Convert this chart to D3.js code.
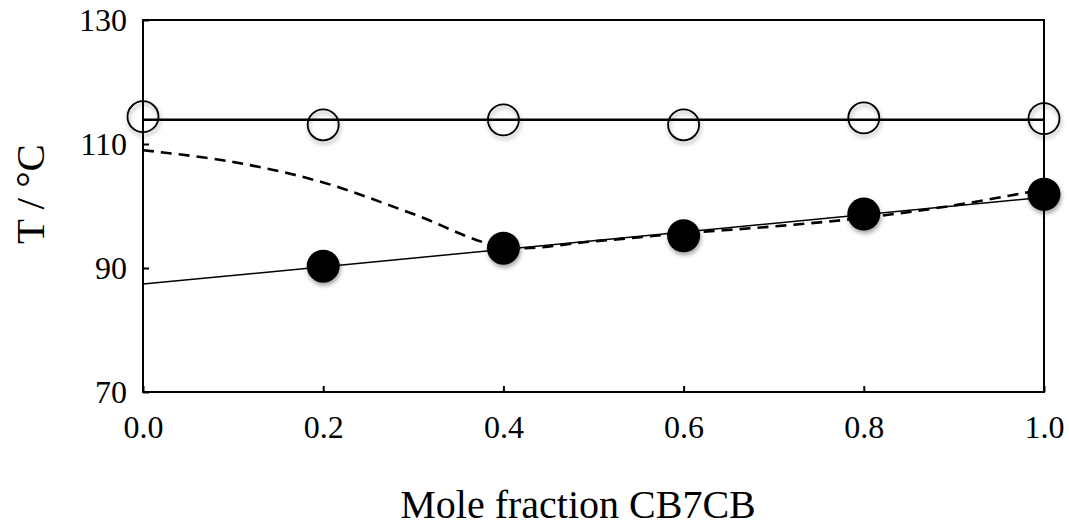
<!DOCTYPE html>
<html>
<head>
<meta charset="utf-8">
<script src="https://cdn.jsdelivr.net/npm/d3@7"></script>
<style>
body{margin:0;background:#fff}
text{font-family:"Liberation Serif","DejaVu Serif",serif;fill:#000}
</style>
</head>
<body>
<svg width="1069" height="530"></svg>
<script>
// mole fractions and temperatures
var xs = [0.0, 0.2, 0.4, 0.6, 0.8, 1.0]
var openT = [114.4, 113.1, 113.9, 113.1, 114.2, 114.1]
var filledX = [0.2, 0.4, 0.6, 0.8, 1.0]
var filledT = [90.3, 93.2, 95.2, 98.7, 101.9]
var flatLine = [113.9, 113.9]
var fitLine = [87.4, 101.4]
var dashX = [0.0, 0.1, 0.2, 0.3, 0.4, 0.5, 0.6, 0.7, 0.8, 0.9, 1.0]
var dashT = [109.0, 107.1, 103.8, 98.7, 93.4, 94.3, 95.6, 96.7, 98.1, 100.1, 102.7]
var xTicks = [0.0, 0.2, 0.4, 0.6, 0.8, 1.0]
var yTicks = [70, 90, 110, 130]

var svg = d3.select("svg")
var m = {left:143, right:1044, top:20, bottom:392}

var x = d3.scaleLinear().domain([0,1]).range([m.left, m.right])
var y = d3.scaleLinear().domain([70,130]).range([m.bottom, m.top])

var defs = svg.append("defs")
var f = defs.append("filter").attr("id","shadow").attr("x","-50%").attr("y","-50%").attr("width","200%").attr("height","200%")
f.append("feDropShadow").attr("dx",1).attr("dy",3).attr("stdDeviation",2).attr("flood-color","#000").attr("flood-opacity",0.35)

// frame
svg.append("rect").attr("x",m.left).attr("y",m.top)
    .attr("width",m.right-m.left).attr("height",m.bottom-m.top)
    .attr("fill","none").attr("stroke","#000").attr("stroke-width",2)

// axes with inward ticks
var xAxis = svg.append("g").attr("transform","translate(0,"+m.bottom+")")
    .call(d3.axisBottom(x).tickValues(xTicks).tickSize(-6).tickPadding(30).tickFormat(d3.format(".1f")))
var yAxis = svg.append("g").attr("transform","translate("+m.left+",0)")
    .call(d3.axisLeft(y).tickValues(yTicks).tickSize(-6).tickPadding(16))
svg.selectAll(".domain").remove()
svg.selectAll(".tick line").attr("stroke","#000").attr("stroke-width",2)
svg.selectAll(".tick text").attr("font-size",32).attr("font-family","Liberation Serif")
xAxis.selectAll(".tick text").attr("dy","0.5em")

// lines
var ends = [0,1]
svg.append("path").datum(ends.map(function(d,i){return [d, flatLine[i]]}))
    .attr("d", d3.line().x(function(p){return x(p[0])}).y(function(p){return y(p[1])}))
    .attr("stroke","#000").attr("stroke-width",2.6).attr("fill","none")
svg.append("path").datum(ends.map(function(d,i){return [d, fitLine[i]]}))
    .attr("d", d3.line().x(function(p){return x(p[0])}).y(function(p){return y(p[1])}))
    .attr("stroke","#000").attr("stroke-width",1.5).attr("fill","none")
svg.append("path").datum(dashX.map(function(d,i){return [d, dashT[i]]}))
    .attr("d", d3.line().curve(d3.curveCatmullRom).x(function(p){return x(p[0])}).y(function(p){return y(p[1])}))
    .attr("stroke","#000").attr("stroke-width",2.6).attr("stroke-dasharray","11,7").attr("fill","none")

// markers
svg.selectAll("circle.open").data(xs).enter().append("circle")
    .attr("class","open")
    .attr("cx", function(d){return x(d)})
    .attr("cy", function(d,i){return y(openT[i])})
    .attr("r",15.5).attr("fill","#fff").attr("fill-opacity",0.0)
    .attr("stroke","#000").attr("stroke-width",1.8).attr("filter","url(#shadow)")
svg.selectAll("circle.filled").data(filledX).enter().append("circle")
    .attr("class","filled")
    .attr("cx", function(d){return x(d)})
    .attr("cy", function(d,i){return y(filledT[i])})
    .attr("r",16.5).attr("fill","#000").attr("filter","url(#shadow)")

// titles
svg.append("text").attr("x",578).attr("y",518)
    .attr("text-anchor","middle").attr("font-size",40).text("Mole fraction CB7CB")
svg.append("text").attr("transform","translate(44,194) rotate(-90)")
    .attr("text-anchor","middle").attr("font-size",41).text("T / °C")
</script>
</body>
</html>
